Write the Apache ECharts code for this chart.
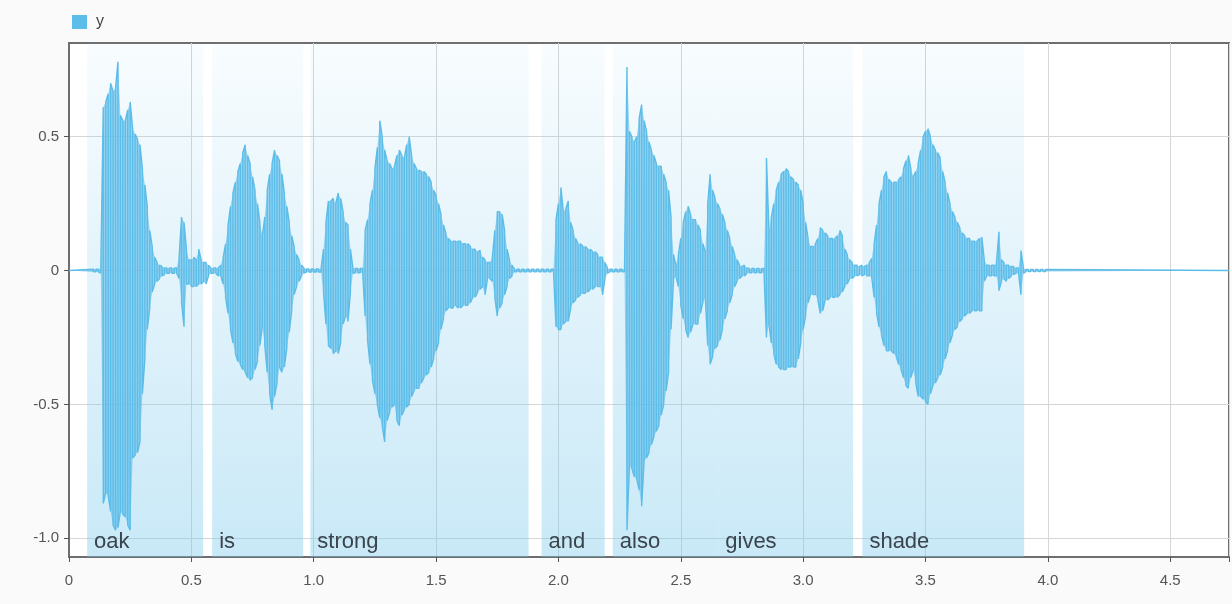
<!DOCTYPE html>
<html>
<head>
<meta charset="utf-8">
<script src="https://cdn.jsdelivr.net/npm/echarts@6/dist/echarts.min.js"></script>
<style>
html,body{margin:0;padding:0;background:#fafafa;}
#chart{width:1232px;height:604px;}
</style>
</head>
<body>
<div id="chart"></div>
<script>
// Sample grid of the envelope (seconds)
const tStart = 0.10;
const tStep = 0.01;
const tEnd = 4.74;

// Upper envelope of the waveform, one value per 0.01 s from 0.10 s
const upper = [
  0.005,0.005,0.005,0.01,0.61,0.63,0.66,0.70,0.67,0.68,
  0.78,0.58,0.56,0.56,0.60,0.63,0.53,0.51,0.49,0.47,
  0.38,0.32,0.24,0.15,0.09,0.05,0.03,0.02,0.015,0.01,
  0.01,0.01,0.01,0.01,0.01,0.05,0.20,0.18,0.08,0.04,
  0.04,0.05,0.04,0.08,0.04,0.03,0.03,0.02,0.01,0.01,
  0.01,0.01,0.02,0.05,0.10,0.17,0.24,0.29,0.33,0.37,
  0.40,0.44,0.47,0.43,0.40,0.35,0.30,0.25,0.18,0.13,
  0.20,0.30,0.36,0.40,0.45,0.43,0.41,0.36,0.29,0.24,
  0.18,0.13,0.09,0.06,0.04,0.02,0.01,0.006,0.006,0.006,
  0.006,0.006,0.006,0.006,0.08,0.18,0.26,0.26,0.27,0.25,
  0.29,0.27,0.22,0.18,0.17,0.08,0.01,0.008,0.008,0.008,
  0.008,0.15,0.19,0.25,0.30,0.38,0.46,0.56,0.50,0.45,
  0.41,0.40,0.38,0.39,0.43,0.45,0.43,0.42,0.47,0.50,
  0.43,0.40,0.38,0.375,0.37,0.37,0.36,0.35,0.33,0.30,
  0.28,0.25,0.21,0.17,0.14,0.12,0.11,0.11,0.11,0.11,
  0.11,0.10,0.10,0.10,0.09,0.08,0.08,0.07,0.075,0.05,
  0.04,0.03,0.03,0.05,0.15,0.22,0.22,0.21,0.15,0.08,
  0.04,0.02,0.005,0.005,0.005,0.005,0.005,0.005,0.005,0.005,
  0.005,0.005,0.005,0.005,0.005,0.005,0.005,0.005,0.005,0.19,
  0.25,0.31,0.22,0.23,0.26,0.18,0.15,0.12,0.10,0.10,
  0.09,0.09,0.08,0.08,0.07,0.07,0.06,0.05,0.05,0.03,
  0.01,0.005,0.005,0.005,0.005,0.005,0.005,0.005,0.76,0.52,
  0.50,0.48,0.50,0.57,0.62,0.56,0.52,0.48,0.45,0.43,
  0.40,0.39,0.39,0.36,0.33,0.30,0.20,0.06,0.02,0.06,
  0.12,0.18,0.22,0.24,0.21,0.19,0.19,0.17,0.15,0.10,
  0.07,0.25,0.36,0.30,0.27,0.25,0.23,0.21,0.18,0.15,
  0.12,0.09,0.06,0.04,0.02,0.015,0.02,0.01,0.008,0.008,
  0.008,0.008,0.008,0.008,0.008,0.42,0.15,0.20,0.25,0.30,
  0.33,0.36,0.37,0.38,0.37,0.35,0.34,0.33,0.32,0.30,
  0.25,0.18,0.12,0.09,0.09,0.10,0.12,0.16,0.15,0.14,
  0.13,0.12,0.12,0.12,0.13,0.15,0.13,0.08,0.06,0.04,
  0.03,0.02,0.02,0.015,0.02,0.015,0.02,0.03,0.045,0.10,
  0.17,0.25,0.30,0.35,0.37,0.34,0.33,0.33,0.33,0.34,
  0.35,0.38,0.41,0.43,0.38,0.35,0.37,0.40,0.45,0.50,
  0.52,0.53,0.50,0.47,0.45,0.44,0.42,0.37,0.33,0.29,
  0.25,0.22,0.20,0.18,0.16,0.14,0.13,0.12,0.12,0.11,
  0.11,0.11,0.12,0.125,0.04,0.02,0.02,0.02,0.02,0.03,
  0.145,0.04,0.03,0.02,0.02,0.015,0.015,0.01,0.01,0.075,
  0.01,0.004,0.004,0.004,0.004,0.004,0.004,0.004,0.004,0.004
];

// Lower envelope of the waveform, same grid
const lower = [
  -0.005,-0.005,-0.005,-0.01,-0.87,-0.83,-0.84,-0.90,-0.95,-0.97,
  -0.96,-0.90,-0.91,-0.92,-0.95,-0.97,-0.70,-0.69,-0.68,-0.64,
  -0.46,-0.33,-0.22,-0.14,-0.08,-0.05,-0.04,-0.03,-0.02,-0.015,
  -0.01,-0.01,-0.01,-0.01,-0.01,-0.03,-0.12,-0.21,-0.05,-0.05,
  -0.06,-0.06,-0.06,-0.05,-0.05,-0.04,-0.05,-0.02,-0.01,-0.01,
  -0.01,-0.02,-0.02,-0.05,-0.10,-0.16,-0.22,-0.27,-0.31,-0.34,
  -0.35,-0.37,-0.38,-0.40,-0.41,-0.40,-0.37,-0.34,-0.28,-0.21,
  -0.28,-0.38,-0.46,-0.52,-0.47,-0.42,-0.36,-0.38,-0.36,-0.29,
  -0.23,-0.15,-0.09,-0.06,-0.04,-0.02,-0.01,-0.006,-0.006,-0.006,
  -0.006,-0.006,-0.006,-0.006,-0.08,-0.20,-0.28,-0.29,-0.31,-0.30,
  -0.31,-0.27,-0.20,-0.17,-0.19,-0.08,-0.01,-0.008,-0.008,-0.008,
  -0.008,-0.17,-0.26,-0.35,-0.41,-0.46,-0.50,-0.55,-0.58,-0.64,
  -0.56,-0.53,-0.51,-0.50,-0.56,-0.58,-0.54,-0.52,-0.51,-0.50,
  -0.47,-0.45,-0.44,-0.44,-0.42,-0.40,-0.39,-0.38,-0.36,-0.33,
  -0.30,-0.27,-0.22,-0.18,-0.15,-0.14,-0.14,-0.14,-0.13,-0.14,
  -0.14,-0.13,-0.13,-0.13,-0.12,-0.10,-0.10,-0.08,-0.07,-0.06,
  -0.09,-0.03,-0.03,-0.04,-0.10,-0.17,-0.14,-0.12,-0.09,-0.06,
  -0.03,-0.02,-0.005,-0.005,-0.005,-0.005,-0.005,-0.005,-0.005,-0.005,
  -0.005,-0.005,-0.005,-0.005,-0.005,-0.005,-0.005,-0.005,-0.005,-0.21,
  -0.22,-0.22,-0.20,-0.19,-0.19,-0.14,-0.12,-0.11,-0.10,-0.09,
  -0.085,-0.085,-0.08,-0.07,-0.07,-0.06,-0.06,-0.06,-0.09,-0.03,
  -0.01,-0.005,-0.005,-0.005,-0.005,-0.005,-0.005,-0.005,-0.97,-0.73,
  -0.74,-0.77,-0.78,-0.82,-0.88,-0.71,-0.70,-0.68,-0.65,-0.62,
  -0.60,-0.58,-0.54,-0.50,-0.45,-0.38,-0.22,-0.04,-0.02,-0.06,
  -0.13,-0.18,-0.22,-0.25,-0.23,-0.20,-0.20,-0.20,-0.16,-0.12,
  -0.10,-0.28,-0.35,-0.32,-0.29,-0.28,-0.26,-0.22,-0.18,-0.15,
  -0.12,-0.09,-0.06,-0.04,-0.03,-0.02,-0.02,-0.01,-0.008,-0.008,
  -0.008,-0.008,-0.008,-0.008,-0.008,-0.25,-0.20,-0.27,-0.31,-0.35,
  -0.36,-0.37,-0.37,-0.37,-0.36,-0.36,-0.36,-0.36,-0.33,-0.27,
  -0.22,-0.17,-0.12,-0.09,-0.09,-0.09,-0.11,-0.16,-0.15,-0.11,
  -0.11,-0.10,-0.10,-0.10,-0.10,-0.09,-0.08,-0.06,-0.05,-0.03,
  -0.03,-0.02,-0.02,-0.015,-0.02,-0.015,-0.02,-0.02,-0.025,-0.10,
  -0.16,-0.21,-0.24,-0.28,-0.30,-0.30,-0.30,-0.31,-0.32,-0.35,
  -0.37,-0.40,-0.43,-0.44,-0.40,-0.37,-0.42,-0.47,-0.47,-0.48,
  -0.49,-0.50,-0.46,-0.43,-0.42,-0.40,-0.39,-0.36,-0.33,-0.30,
  -0.27,-0.24,-0.22,-0.21,-0.19,-0.18,-0.17,-0.16,-0.16,-0.15,
  -0.15,-0.15,-0.15,-0.15,-0.04,-0.02,-0.02,-0.02,-0.02,-0.02,
  -0.075,-0.04,-0.03,-0.04,-0.03,-0.02,-0.015,-0.01,-0.01,-0.09,
  -0.01,-0.004,-0.004,-0.004,-0.004,-0.004,-0.004,-0.004,-0.004,-0.004
];

// Word segments
const words = ['oak', 'is', 'strong', 'and', 'also', 'gives', 'shade'];
const wordStart = [0.074, 0.585, 0.986, 1.931, 2.222, 2.653, 3.242];
const wordEnd = [0.548, 0.957, 1.878, 2.189, 2.653, 3.204, 3.903];

// Axis ticks
const xTicks = [0, 0.5, 1.0, 1.5, 2.0, 2.5, 3.0, 3.5, 4.0, 4.5];
const yTicks = [-1.0, -0.5, 0, 0.5];

const lineColor = '#5dbde9';

const times = upper.map((_, i) => +(tStart + i * tStep).toFixed(3));

// Zig-zag waveform from the envelope
const wave = [[0, 0]];
times.forEach((t, i) => {
  if (i % 2 === 0) { wave.push([t, upper[i]]); wave.push([t, lower[i]]); }
  else { wave.push([t, lower[i]]); wave.push([t, upper[i]]); }
});
wave.push([tEnd, 0]);

// Envelope fills (area to the zero line)
const upperPts = [[0, 0]].concat(times.map((t, i) => [t, upper[i]]), [[tEnd, 0]]);
const lowerPts = [[0, 0]].concat(times.map((t, i) => [t, lower[i]]), [[tEnd, 0]]);

const areaFill = new echarts.graphic.LinearGradient(0, 0, 0, 1, [
  { offset: 0, color: 'rgba(120,200,236,0.05)' },
  { offset: 1, color: 'rgba(120,200,236,0.40)' }
]);

const areas = words.map((w, i) => [
  { xAxis: wordStart[i], name: w },
  { xAxis: wordEnd[i] }
]);

const fmt = v => (v === 0 ? '0' : v.toFixed(1));

const bandSeries = (name, pts) => ({
  name: name,
  type: 'line',
  data: pts,
  symbol: 'none',
  showSymbol: false,
  silent: true,
  lineStyle: { width: 0, color: lineColor },
  areaStyle: { color: 'rgba(96,190,234,0.9)', origin: 0 },
  z: 2
});

const chart = echarts.init(document.getElementById('chart'), null, { renderer: 'canvas' });
chart.setOption({
  backgroundColor: '#fafafa',
  animation: false,
  textStyle: { fontFamily: 'Liberation Sans, Arial, sans-serif' },
  legend: {
    left: 67, top: 9,
    icon: 'rect', itemWidth: 15, itemHeight: 14, itemGap: 8,
    textStyle: { fontSize: 16, color: '#444', padding: [0, 0, 0, 4] },
    data: ['y']
  },
  grid: {
    left: 69, right: 3, top: 43, bottom: 47,
    show: true, backgroundColor: '#ffffff',
    borderColor: '#6e6e6e', borderWidth: 2,
    containLabel: false
  },
  xAxis: {
    type: 'value', min: 0, max: tEnd, interval: 0.5,
    axisLine: { show: true, onZero: false, lineStyle: { color: '#6e6e6e', width: 2 } },
    axisTick: { show: true, length: 5, lineStyle: { color: '#555' } },
    axisLabel: { color: '#555', fontSize: 15, margin: 16, formatter: fmt,
      customValues: xTicks },
    splitLine: { show: true, lineStyle: { color: '#d6d6d6', width: 1 } }
  },
  yAxis: {
    type: 'value', min: -1.07, max: 0.85,
    axisLine: { show: true, lineStyle: { color: '#6e6e6e', width: 2 } },
    axisTick: { show: true, length: 5, lineStyle: { color: '#555' }, customValues: yTicks },
    axisLabel: { color: '#555', fontSize: 15, margin: 10, formatter: fmt, customValues: yTicks },
    splitLine: { show: true, lineStyle: { color: '#d6d6d6', width: 1 } }
  },
  series: [
    bandSeries('upperBand', upperPts),
    bandSeries('lowerBand', lowerPts),
    {
      name: 'y',
      type: 'line',
      data: wave,
      showSymbol: false,
      symbol: 'none',
      sampling: null,
      color: lineColor,
      lineStyle: { color: lineColor, width: 1.4 },
      z: 3,
      markArea: {
        silent: true,
        z: 1,
        itemStyle: { color: areaFill },
        label: {
          show: true, position: 'insideBottomLeft', distance: 4,
          offset: [3, 0],
          color: '#3a444d', fontSize: 22,
          fontFamily: 'Liberation Sans, Arial, sans-serif'
        },
        data: areas
      }
    }
  ]
});
</script>
</body>
</html>
